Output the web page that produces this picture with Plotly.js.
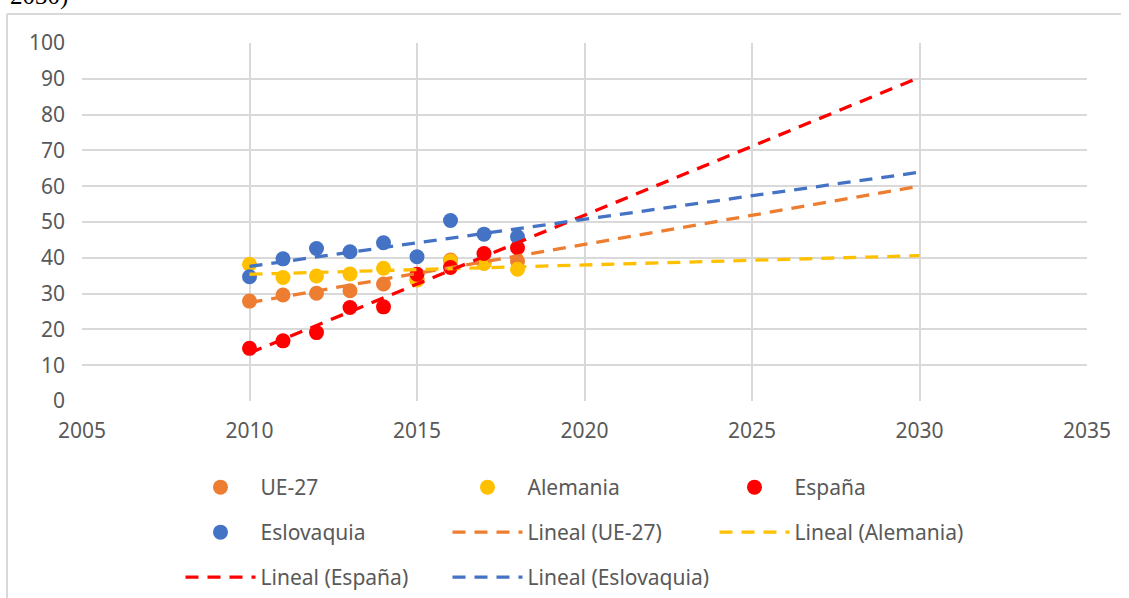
<!DOCTYPE html>
<html>
<head>
<meta charset="utf-8">
<script src="https://cdn.plot.ly/plotly-3.0.1.min.js"></script>
<style>html,body{margin:0;padding:0;background:#fff;}#chart{width:1129px;height:598px;}</style>
</head>
<body>
<div id="chart"></div>
<script>
const years = [2010, 2011, 2012, 2013, 2014, 2015, 2016, 2017, 2018];
const ue27 = [27.9, 29.6, 30.1, 30.8, 32.7, 33.9, 39.4, 38.5, 39.1];
const alemania = [38.2, 34.5, 34.9, 35.5, 37.1, 33.8, 39.1, 38.5, 36.8];
const espana = [14.7, 16.8, 19.1, 26.1, 26.3, 35.4, 37.3, 41.2, 42.8];
const eslovaquia = [34.7, 39.7, 42.6, 41.7, 44.2, 40.3, 50.4, 46.6, 45.9];

const trendYears = [2010, 2030];
const trendUe27 = [27.5, 60.0];
const trendAlemania = [35.4, 40.6];
const trendEspana = [13.4, 90.4];
const trendEslovaquia = [37.6, 63.9];

const seriesNames = ['UE-27', 'Alemania', 'España', 'Eslovaquia'];
const trendNames = ['Lineal (UE-27)', 'Lineal (Alemania)', 'Lineal (España)', 'Lineal (Eslovaquia)'];
const colors = ['#ED7D31', '#FFC000', '#FF0000', '#4472C4'];

const pointSets = [ue27, alemania, espana, eslovaquia];
const trendSets = [trendUe27, trendAlemania, trendEspana, trendEslovaquia];

// legend row of each entry (Excel-style 3-column grid)
const markerLegend = ['legend', 'legend', 'legend', 'legend2'];
const trendLegend = ['legend2', 'legend2', 'legend3', 'legend3'];

const traces = [];
pointSets.forEach((vals, i) => {
  traces.push({
    type: 'scatter', mode: 'markers', x: years, y: vals, name: seriesNames[i],
    legend: markerLegend[i],
    marker: {color: colors[i], size: 15, line: {width: 0}}, cliponaxis: false
  });
});
trendSets.forEach((vals, i) => {
  traces.push({
    type: 'scatter', mode: 'lines', x: trendYears, y: vals, name: trendNames[i],
    legend: trendLegend[i],
    line: {color: colors[i], width: 3.3, dash: '13px,9px'}
  });
});

const tickFont = {family: 'Noto Sans, sans-serif', size: 21, color: '#595959'};
const legFont = {family: 'Noto Sans, sans-serif', size: 21, color: '#595959'};

function legendAt(y) {
  return {
    orientation: 'h', x: 0.098, xanchor: 'left', y: y, yanchor: 'top',
    entrywidth: 182, entrywidthmode: 'pixels', itemwidth: 70,
    font: legFont, bgcolor: 'rgba(0,0,0,0)', traceorder: 'normal'
  };
}

const layout = {
  width: 1129, height: 598,
  paper_bgcolor: '#fff', plot_bgcolor: '#fff',
  margin: {l: 82, r: 42, t: 43, b: 197, autoexpand: false},
  font: tickFont,
  showlegend: true,
  legend: legendAt(-0.1844),
  legend2: legendAt(-0.3101),
  legend3: legendAt(-0.4358),
  xaxis: {
    range: [2005, 2035], dtick: 5, tick0: 2005, showgrid: true,
    gridcolor: '#d9d9d9', gridwidth: 2, zeroline: false, showline: false,
    ticks: '', ticklabelstandoff: 15, tickfont: tickFont
  },
  yaxis: {
    range: [0, 100], dtick: 10, showgrid: true,
    gridcolor: '#d9d9d9', gridwidth: 2, zeroline: false, showline: false,
    ticks: '', ticklabelstandoff: 16, tickfont: tickFont
  },
  shapes: [
    {type: 'line', xref: 'paper', yref: 'paper', x0: -0.0746, x1: 1.0338, y0: 1.081, y1: 1.081,
     line: {color: '#d9d9d9', width: 2}},
    {type: 'line', xref: 'paper', yref: 'paper', x0: -0.0746, x1: -0.0746, y0: 1.081, y1: -0.56,
     line: {color: '#d9d9d9', width: 2}}
  ],
  annotations: [
    {text: '2030)', xref: 'paper', yref: 'paper', x: -0.0736, y: 1.0866, xanchor: 'left', yanchor: 'bottom',
     showarrow: false, font: {family: 'Liberation Serif, serif', size: 25, color: '#000'}}
  ]
};

Plotly.newPlot('chart', traces, layout, {displayModeBar: false, staticPlot: true});
</script>
</body>
</html>
